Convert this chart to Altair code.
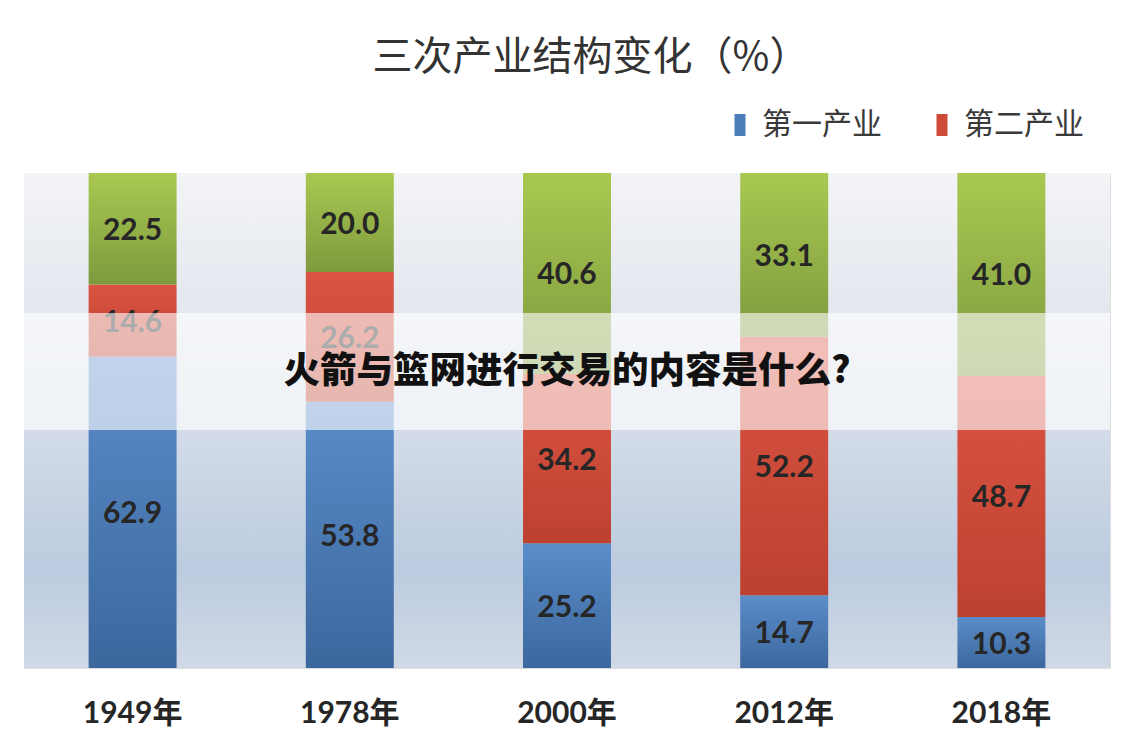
import altair as alt
import pandas as pd

years = ["1949年", "1978年", "2000年", "2012年", "2018年"]
series = ["第一产业", "第二产业", "第三产业"]
primary = [62.9, 53.8, 25.2, 14.7, 10.3]
secondary = [14.6, 26.2, 34.2, 52.2, 48.7]
tertiary = [22.5, 20.0, 40.6, 33.1, 41.0]
legend_shown = ["第一产业", "第二产业"]
title_text = "三次产业结构变化（%）"
watermark_text = "火箭与篮网进行交易的内容是什么?"

rows = []
for i, y in enumerate(years):
    for k, (s, vals) in enumerate(zip(series, [primary, secondary, tertiary])):
        rows.append({"year": y, "series": s, "order": k, "value": vals[i]})
df = pd.DataFrame(rows)

W, H = 1086, 495
LATIN = "Lato, Noto Sans CJK SC"
CJK = "Noto Sans CJK SC"

def grad(top, bottom):
    return alt.Gradient(
        gradient="linear",
        stops=[alt.GradientStop(color=top, offset=0), alt.GradientStop(color=bottom, offset=1)],
        x1=0, x2=0, y1=0, y2=1,
    )

fills = {
    "第一产业": grad("#5b8dca", "#3b679d"),
    "第二产业": grad("#db5443", "#bd412f"),
    "第三产业": grad("#a9c851", "#7e9a3e"),
}
solid = ["#4a7ebb", "#d04a3a", "#9bbb59"]

xenc = alt.X(
    "year:N", sort=years,
    scale=alt.Scale(paddingInner=0.595, paddingOuter=0.2975),
    axis=alt.Axis(title=None, labelAngle=0, ticks=False, domain=False, grid=False,
                  labelFont=LATIN, labelFontSize=30, labelFontWeight="bold",
                  labelColor="#262626", labelPadding=30),
)
yscale = alt.Scale(domain=[0, 100])

one = pd.DataFrame({"k": [0]})

bg = alt.Chart(one).mark_rect(
    fill=alt.Gradient(
        gradient="linear",
        stops=[
            alt.GradientStop(color="#f3f4f6", offset=0),
            alt.GradientStop(color="#e3e7ee", offset=0.28),
            alt.GradientStop(color="#d3dce8", offset=0.52),
            alt.GradientStop(color="#bccbdf", offset=0.8),
            alt.GradientStop(color="#d0d9e6", offset=1),
        ],
        x1=0, x2=0, y1=0, y2=1,
    )
).encode(x=alt.value(0), x2=alt.value(W), y=alt.value(0), y2=alt.value(H))

base = alt.Chart(df).transform_stack(
    stack="value", groupby=["year"], sort=[alt.SortField("order", order="ascending")], as_=["y0", "y1"]
)

bars = [
    base.transform_filter(alt.datum.series == s).mark_bar(fill=fills[s], strokeWidth=0).encode(
        x=xenc, y=alt.Y("y0:Q", scale=yscale, axis=None), y2="y1:Q"
    )
    for s in series
]

legend_layer = base.mark_square(opacity=0).encode(
    x=xenc,
    y=alt.Y("y1:Q", scale=yscale, axis=None),
    color=alt.Color(
        "series:N",
        scale=alt.Scale(domain=series, range=solid),
        legend=alt.Legend(
            values=legend_shown, title=None, orient="none", direction="horizontal",
            legendX=701, legendY=-63, padding=0,
            symbolType="M-0.5,-1L0.5,-1L0.5,1L-0.5,1Z", symbolSize=484,
            symbolOpacity=1, symbolStrokeWidth=0,
            labelFont=CJK, labelFontSize=30, labelColor="#3a3a3a",
            labelOffset=7, columnPadding=45, labelLimit=300,
        ),
    ),
)

labels = base.transform_calculate(mid="(datum.y0 + datum.y1) / 2").mark_text(
    font=LATIN, fontWeight="bold", fontSize=30, color="#262626", dy=2
).encode(x=xenc, y=alt.Y("mid:Q", scale=yscale, axis=None), text=alt.Text("value:Q", format=".1f"))

overlay = alt.Chart(one).mark_rect(fill="white", opacity=0.62).encode(
    x=alt.value(0), x2=alt.value(W), y=alt.value(140), y2=alt.value(257)
)

watermark = alt.Chart(one).mark_text(
    text=watermark_text, font=CJK, fontSize=36.5, fontWeight=900, color="#111111"
).encode(x=alt.value(W / 2), y=alt.value(199))

chart = alt.layer(bg, *bars, labels, legend_layer, overlay, watermark).properties(
    width=W, height=H,
    title=alt.TitleParams(title_text, font=CJK, fontSize=40, fontWeight="normal",
                          color="#333333", anchor="middle", dx=24, dy=44, offset=36, baseline="bottom"),
    autosize=alt.AutoSizeParams(type="none"),
    padding={"left": 24, "top": 173, "right": 24, "bottom": 76},
).configure_view(stroke=None).configure(background="white")

chart.save("out.html", embed_options={"renderer": "svg", "actions": False})
